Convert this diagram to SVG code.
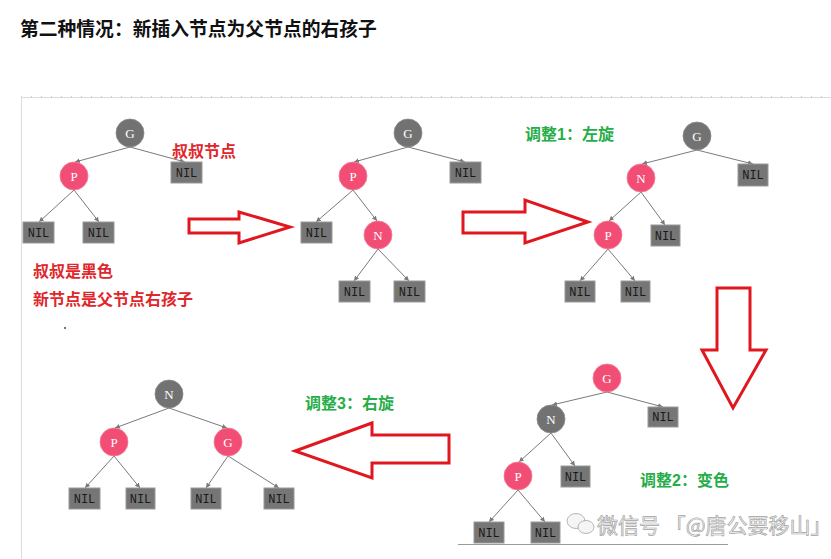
<svg xmlns="http://www.w3.org/2000/svg" width="831" height="559" viewBox="0 0 831 559">
<style>
.title{font-family:"Liberation Sans","Noto Sans CJK SC",sans-serif;font-weight:bold;font-size:18.8px;fill:#111}
.red{font-family:"Liberation Sans","Noto Sans CJK SC",sans-serif;font-weight:bold;font-size:16px;fill:#e0262b}
.green{font-family:"Liberation Sans","Noto Sans CJK SC",sans-serif;font-weight:bold;font-size:16px;fill:#25ad48}
.blk{fill:#727272;stroke:#8a8a8a;stroke-width:0.8}
.redn{fill:#f24d74;stroke:#f47a96;stroke-width:0.8}
.nil{fill:#767676;stroke:#9a9a9a;stroke-width:1}
.lbl{font-family:"Liberation Serif","DejaVu Serif",serif;font-size:13px;fill:#fff;text-anchor:middle}
.niltxt{font-family:"Liberation Mono","DejaVu Sans Mono",monospace;font-size:12px;fill:#1a1a1a;text-anchor:middle}
.edge{stroke:#7a7a7a;stroke-width:1;fill:none;marker-end:url(#ah)}
.bigarrow{fill:#fff;stroke:#e0171f;stroke-width:3;stroke-linejoin:miter}
.wm{font-family:"Noto Sans CJK SC",sans-serif;font-size:21px;fill:#f4f4f4;stroke:#9a9a9a;stroke-width:0.7}
</style>
<defs>
<marker id="ah" markerWidth="6" markerHeight="6" refX="5" refY="3" orient="auto" markerUnits="userSpaceOnUse">
<path d="M0,0.5 L5,3 L0,5.5 Z" fill="#7a7a7a"/>
</marker>
</defs>
<rect x="0" y="0" width="831" height="559" fill="#fff"/>
<text class="title" x="20" y="36">第二种情况：新插入节点为父节点的右孩子</text>
<!-- frame -->
<line x1="21" y1="97.5" x2="831" y2="97.5" stroke="#dcdcdc" stroke-width="1"/>
<line x1="21" y1="97" x2="831" y2="97" stroke="#cfcfcf" stroke-width="2" stroke-dasharray="1 9"/>
<line x1="21.5" y1="97" x2="21.5" y2="559" stroke="#dcdcdc" stroke-width="1"/>

<g id="connectors">
<!-- tree 1 -->
<line class="edge" x1="130" y1="147" x2="75" y2="162"/>
<line class="edge" x1="130" y1="147" x2="185" y2="162"/>
<line class="edge" x1="74" y1="190" x2="39" y2="222"/>
<line class="edge" x1="74" y1="190" x2="99" y2="222"/>
<!-- tree 2 -->
<line class="edge" x1="408" y1="147" x2="354" y2="162"/>
<line class="edge" x1="408" y1="147" x2="465" y2="162"/>
<line class="edge" x1="353" y1="190" x2="316" y2="222"/>
<line class="edge" x1="353" y1="190" x2="377" y2="221"/>
<line class="edge" x1="378" y1="249" x2="354" y2="281"/>
<line class="edge" x1="378" y1="249" x2="409" y2="281"/>
<!-- tree 3 -->
<line class="edge" x1="697" y1="150" x2="642" y2="164"/>
<line class="edge" x1="697" y1="150" x2="753" y2="164"/>
<line class="edge" x1="641" y1="192" x2="609" y2="221"/>
<line class="edge" x1="641" y1="192" x2="665" y2="225"/>
<line class="edge" x1="608" y1="249" x2="580" y2="281"/>
<line class="edge" x1="608" y1="249" x2="635" y2="281"/>
<!-- tree 4 -->
<line class="edge" x1="607" y1="392" x2="552" y2="405"/>
<line class="edge" x1="607" y1="392" x2="663" y2="407"/>
<line class="edge" x1="551" y1="433" x2="519" y2="462"/>
<line class="edge" x1="551" y1="433" x2="575" y2="466"/>
<line class="edge" x1="518" y1="490" x2="489" y2="522"/>
<line class="edge" x1="518" y1="490" x2="545" y2="522"/>
<!-- tree 5 -->
<line class="edge" x1="169" y1="408" x2="115" y2="428"/>
<line class="edge" x1="169" y1="408" x2="227" y2="428"/>
<line class="edge" x1="114" y1="456" x2="85" y2="488"/>
<line class="edge" x1="114" y1="456" x2="140" y2="488"/>
<line class="edge" x1="228" y1="456" x2="206" y2="488"/>
<line class="edge" x1="228" y1="456" x2="279" y2="488"/>
</g>

<!-- tree 1 -->
<g id="t1-G"><circle class="blk" cx="130" cy="133" r="14"/><text class="lbl" x="130" y="138">G</text></g>
<g id="t1-P"><circle class="redn" cx="74" cy="176" r="14"/><text class="lbl" x="74" y="181">P</text></g>
<g id="t1-NIL-u"><rect class="nil" x="171" y="162" width="31" height="21"/><text class="niltxt" x="186.5" y="177">NIL</text></g>
<g id="t1-NIL-a"><rect class="nil" x="23" y="222" width="31" height="21"/><text class="niltxt" x="38.5" y="237">NIL</text></g>
<g id="t1-NIL-b"><rect class="nil" x="83" y="222" width="31" height="21"/><text class="niltxt" x="98.5" y="237">NIL</text></g>
<text class="red" x="172" y="157">叔叔节点</text>
<text class="red" x="33" y="277">叔叔是黑色</text>
<text class="red" x="33" y="305">新节点是父节点右孩子</text>
<circle cx="65" cy="328" r="0.9" fill="#333"/>

<!-- tree 2 -->
<g id="t2-G"><circle class="blk" cx="408" cy="133" r="14"/><text class="lbl" x="408" y="138">G</text></g>
<g id="t2-P"><circle class="redn" cx="353" cy="176" r="14"/><text class="lbl" x="353" y="181">P</text></g>
<g id="t2-N"><circle class="redn" cx="378" cy="235" r="14"/><text class="lbl" x="378" y="240">N</text></g>
<g id="t2-NIL-u"><rect class="nil" x="450" y="162" width="31" height="21"/><text class="niltxt" x="465.5" y="177">NIL</text></g>
<g id="t2-NIL-a"><rect class="nil" x="301" y="222" width="31" height="21"/><text class="niltxt" x="316.5" y="237">NIL</text></g>
<g id="t2-NIL-b"><rect class="nil" x="339" y="281" width="31" height="21"/><text class="niltxt" x="354.5" y="296">NIL</text></g>
<g id="t2-NIL-c"><rect class="nil" x="394" y="281" width="31" height="21"/><text class="niltxt" x="409.5" y="296">NIL</text></g>

<!-- tree 3 -->
<text class="green" x="525" y="140">调整1：左旋</text>
<g id="t3-G"><circle class="blk" cx="697" cy="136" r="14"/><text class="lbl" x="697" y="141">G</text></g>
<g id="t3-N"><circle class="redn" cx="641" cy="178" r="14"/><text class="lbl" x="641" y="183">N</text></g>
<g id="t3-P"><circle class="redn" cx="608" cy="235" r="14"/><text class="lbl" x="608" y="240">P</text></g>
<g id="t3-NIL-u"><rect class="nil" x="738" y="164" width="30" height="22"/><text class="niltxt" x="753" y="179">NIL</text></g>
<g id="t3-NIL-a"><rect class="nil" x="651" y="225" width="29" height="21"/><text class="niltxt" x="665.5" y="240">NIL</text></g>
<g id="t3-NIL-b"><rect class="nil" x="565" y="281" width="30" height="21"/><text class="niltxt" x="580" y="296">NIL</text></g>
<g id="t3-NIL-c"><rect class="nil" x="621" y="281" width="29" height="21"/><text class="niltxt" x="635.5" y="296">NIL</text></g>

<!-- tree 4 -->
<g id="t4-G"><circle class="redn" cx="607" cy="378" r="14"/><text class="lbl" x="607" y="383">G</text></g>
<g id="t4-N"><circle class="blk" cx="551" cy="419" r="14"/><text class="lbl" x="551" y="424">N</text></g>
<g id="t4-P"><circle class="redn" cx="518" cy="476" r="14"/><text class="lbl" x="518" y="481">P</text></g>
<g id="t4-NIL-u"><rect class="nil" x="648" y="407" width="30" height="20"/><text class="niltxt" x="663" y="421">NIL</text></g>
<g id="t4-NIL-a"><rect class="nil" x="561" y="466" width="29" height="21"/><text class="niltxt" x="575.5" y="481">NIL</text></g>
<g id="t4-NIL-b"><rect class="nil" x="474" y="522" width="30" height="21"/><text class="niltxt" x="489" y="537">NIL</text></g>
<g id="t4-NIL-c"><rect class="nil" x="531" y="522" width="29" height="21"/><text class="niltxt" x="545.5" y="537">NIL</text></g>
<text class="green" x="640" y="486">调整2：变色</text>
<line x1="458" y1="544.5" x2="728" y2="544.5" stroke="#9a9a9a" stroke-width="1"/>

<!-- tree 5 -->
<g id="t5-N"><circle class="blk" cx="169" cy="394" r="14"/><text class="lbl" x="169" y="399">N</text></g>
<g id="t5-P"><circle class="redn" cx="114" cy="442" r="14"/><text class="lbl" x="114" y="447">P</text></g>
<g id="t5-G"><circle class="redn" cx="228" cy="442" r="14"/><text class="lbl" x="228" y="447">G</text></g>
<g id="t5-NIL-a"><rect class="nil" x="69" y="488" width="31" height="21"/><text class="niltxt" x="84.5" y="503">NIL</text></g>
<g id="t5-NIL-b"><rect class="nil" x="126" y="488" width="29" height="21"/><text class="niltxt" x="140.5" y="503">NIL</text></g>
<g id="t5-NIL-c"><rect class="nil" x="191" y="488" width="30" height="21"/><text class="niltxt" x="206" y="503">NIL</text></g>
<g id="t5-NIL-d"><rect class="nil" x="264" y="488" width="30" height="21"/><text class="niltxt" x="279" y="503">NIL</text></g>
<text class="green" x="305" y="409">调整3：右旋</text>

<!-- big arrows -->
<g id="arrow-1"><polygon class="bigarrow" points="189,219 239,219 239,212 290,227 239,243 239,233 189,233"/></g>
<g id="arrow-2"><polygon class="bigarrow" points="463,212 525,212 525,200 588,222 525,243 525,233 463,233"/></g>
<g id="arrow-3"><polygon class="bigarrow" points="717,288 750,288 750,350 766,350 733,408 702,350 717,350"/></g>
<g id="arrow-4"><polygon class="bigarrow" points="449,435 372,435 372,423 295,451 372,478 372,463 449,463"/></g>

<!-- watermark -->
<g id="watermark" opacity="0.9">
<ellipse cx="576" cy="521" rx="9" ry="7.5" fill="#f4f4f4" stroke="#9a9a9a" stroke-width="0.8"/>
<ellipse cx="586" cy="527" rx="8" ry="6.5" fill="#f4f4f4" stroke="#9a9a9a" stroke-width="0.8"/>
<text class="wm" x="597" y="533">微信号 「@唐公要移山」</text>
</g>
</svg>
